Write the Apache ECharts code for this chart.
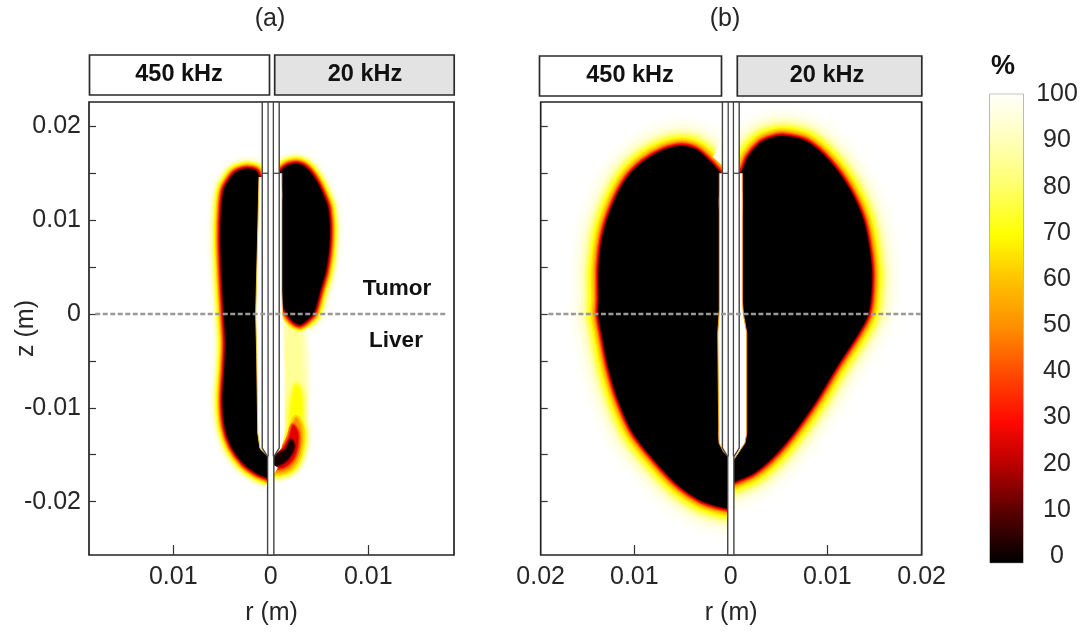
<!DOCTYPE html>
<html><head><meta charset="utf-8">
<style>html,body{margin:0;padding:0;background:#fff}#c{width:1080px;height:633px}</style>
<script src="https://cdn.jsdelivr.net/npm/echarts@6/dist/echarts.min.js"></script>
</head><body><div id="c"></div>
<script>
// axis ranges (m)
const zRange = [-0.02569, 0.0226];
const rRangeA = [-0.01864, 0.0188];
const rRangeB = [-0.0197, 0.01978];
const zTicks = [-0.02,-0.015,-0.01,-0.005,0,0.005,0.01,0.015,0.02];
const zLabels = [-0.02,-0.01,0,0.01,0.02];
const rLabelsA = [-0.01,0,0.01];
const rTicksA = [-0.01,0.01];
const rLabelsB = [-0.0197,-0.01,0,0.01,0.01978];
const rTicksB = [-0.01,0.01,0.01978];
// Colour bar
const barTicks = [0,10,20,30,40,50,60,70,80,90,100];
const barStops = [0,10,20,30,40,50,60,70,80,90,100];
const barColors = ['#000000','#520000','#b00000','#ff0800','#ff4800','#ff8c00','#ffc000','#ffff00','#ffff68','#ffffb8','#fffffa'];

// (a) 450 kHz: outer edge of the zero-percent region, then its side along the needle
const aLeftEdge = [[-0.0006,0.014],[-0.0012,0.01464],[-0.00144,0.01517],[-0.00192,0.0154],[-0.00264,0.01543],[-0.00366,0.01503],[-0.00438,0.01407],[-0.00479,0.01322],[-0.00503,0.01144],[-0.00513,0.00789],[-0.00499,0.00362],[-0.00479,0],[-0.00462,-0.00309],[-0.00474,-0.00597],[-0.00492,-0.00917],[-0.00469,-0.01201],[-0.004,-0.01415],[-0.00281,-0.01588],[-0.00144,-0.01695],[-0.00028,-0.01748],[-0.0001,-0.0176]];
const aLeftInner = [[-0.0001,-0.0165],[-0.0002,-0.0152],[-0.0011,-0.0143],[-0.0012,-0.012],[-0.0012,-0.009],[-0.0012,-0.006],[-0.0012,-0.003],[-0.0012,0],[-0.0012,0.003],[-0.0012,0.006],[-0.0012,0.009],[-0.0012,0.012]];
// (a) 20 kHz
const aRightEdge = [[0.0006,0.0147],[0.00113,0.01528],[0.00146,0.01562],[0.00198,0.01588],[0.0027,0.01599],[0.00331,0.01578],[0.00393,0.01525],[0.00472,0.01407],[0.00536,0.01269],[0.00583,0.01141],[0.00603,0.00949],[0.00601,0.00789],[0.00588,0.00629],[0.00557,0.00437],[0.00506,0.00256],[0.00437,0.00007],[0.00369,-0.00064],[0.003,-0.0011],[0.00229,-0.00075],[0.00164,0.00011],[0.00126,0.00096],[0.00113,0.00256]];
const aRightInner = [[0.00113,0.005],[0.00113,0.008],[0.00113,0.011],[0.00113,0.0135]];
// (a) 20 kHz: plume and crescent below the z = 0 line
const aPlumePale = [[0.00218,-0.00085],[0.00157,-0.00277],[0.00157,-0.00597],[0.00177,-0.00917],[0.00208,-0.01183],[0.0029,-0.01183],[0.00321,-0.00917],[0.00321,-0.00597],[0.00311,-0.0033],[0.0028,-0.00117]];
const aPlumeYellow = [[0.0026,-0.00757],[0.00218,-0.00917],[0.00208,-0.01183],[0.003,-0.01237],[0.00321,-0.0097],[0.003,-0.0081]];
const aCrescentOrange = [[0.0026,-0.01109],[0.00218,-0.01215],[0.00177,-0.01365],[0.00116,-0.01471],[0.00054,-0.01546],[0.00044,-0.01685],[0.00177,-0.01663],[0.0026,-0.01567],[0.00311,-0.01397],[0.00311,-0.01215]];
const aCrescentRed = [[0.00229,-0.01183],[0.00188,-0.01311],[0.00126,-0.01429],[0.00044,-0.01503],[0.00033,-0.01642],[0.00147,-0.01631],[0.00239,-0.01535],[0.0028,-0.01397],[0.0028,-0.01258]];
const aCrescentDark = [[0.00208,-0.01343],[0.00157,-0.01439],[0.00044,-0.01524],[0.00023,-0.0162],[0.00126,-0.01588],[0.00198,-0.01514],[0.00239,-0.01407]];
// clear zone next to the needle
const aLeftGap = [[-0.0012,0.0146],[-0.0013,0.01],[-0.00154,0],[-0.00144,-0.0043],[-0.00133,-0.0127],[-0.0011,-0.0143],[-0.0003,-0.0152]];
const aRightGap = [[0.00113,0.015],[0.00113,0.0026],[0.0012,0],[0.0014,-0.005],[0.0014,-0.0127],[0.0011,-0.0143],[0.0003,-0.0152]];

// (b)
const bLeftEdge = [[-0.0006,0.0145],[-0.00119,0.01517],[-0.00215,0.01624],[-0.00353,0.01748],[-0.00509,0.01791],[-0.00699,0.01746],[-0.00906,0.01624],[-0.01078,0.01447],[-0.01217,0.0118],[-0.01321,0.0086],[-0.01366,0.00504],[-0.01366,0.00149],[-0.01373,0.00007],[-0.01338,-0.00203],[-0.01269,-0.00562],[-0.01166,-0.00917],[-0.0101,-0.01272],[-0.00733,-0.01628],[-0.00526,-0.01841],[-0.00319,-0.01983],[-0.00163,-0.02042],[-0.00042,-0.02071],[-0.0001,-0.02075]];
const bLeftInner = [[-0.0001,-0.0195],[-0.0001,-0.018],[-0.0001,-0.0165],[-0.0002,-0.0152],[-0.00119,-0.0137],[-0.00119,-0.011],[-0.00119,-0.008],[-0.00119,-0.005],[-0.00119,-0.002],[-0.00119,0.001],[-0.00119,0.004],[-0.00119,0.007],[-0.00119,0.01],[-0.00119,0.013]];
const bRightEdge = [[0.0006,0.0145],[0.00119,0.01528],[0.00181,0.01677],[0.00303,0.0182],[0.00417,0.01876],[0.00544,0.01898],[0.00787,0.01837],[0.01028,0.01624],[0.01235,0.01322],[0.01373,0.01002],[0.01442,0.00647],[0.0146,0.00362],[0.01425,0.00007],[0.01321,-0.00206],[0.01097,-0.00562],[0.0089,-0.00917],[0.00648,-0.01272],[0.0044,-0.01521],[0.00233,-0.01698],[0.00033,-0.01788],[0.0001,-0.0179]];
const bRightInner = [[0.0001,-0.0165],[0.0002,-0.0155],[0.0012,-0.0137],[0.00119,-0.011],[0.00119,-0.008],[0.00119,-0.005],[0.00119,-0.002],[0.00119,0.001],[0.00119,0.004],[0.00119,0.007],[0.00119,0.01],[0.00119,0.013]];
const bLeftGap = [[-0.00119,0.015],[-0.00119,0.0005],[-0.00135,-0.002],[-0.00129,-0.00917],[-0.00122,-0.01375],[-0.00077,-0.01468],[-0.00026,-0.01521]];
const bRightGap = [[0.00119,0.015],[0.00119,0.0015],[0.0013,0],[0.00165,-0.002],[0.00165,-0.0127],[0.00147,-0.01375],[0.00033,-0.0155]];

// needle, same in both panels
const needleOutline = [[-0.00087,0.0226],[-0.00087,-0.0143],[-0.00032,-0.0152],[-0.00032,-0.02569],[0.00032,-0.02569],[0.00032,-0.0152],[0.00087,-0.0143],[0.00087,0.0226]];
const needleInnerLeft = [[-0.00027,0.0226],[-0.00027,-0.0152]];
const needleInnerRight = [[0.00027,0.0226],[0.00027,-0.0152]];
const needleMarkLeft = [[-0.00087,0.015],[-0.00027,0.015]];
const needleMarkRight = [[0.00027,0.015],[0.00087,0.015]];
const interfaceA = [[-0.018,0],[0.018,0]];
const interfaceB = [[-0.0189,0],[0.01968,0]];

// falloff styling
const haloAOuter = [[14,'#fffff8'],[12,'#ffffe8'],[10.5,'#ffffc8'],[9,'#ffff98'],[7.8,'#ffff50']];
const haloAInner = [[6.8,'#ffff00'],[5.7,'#ffd000'],[4.6,'#ff9000'],[3.6,'#ff4800'],[2.5,'#e00000'],[1.4,'#900000'],[0.5,'#300000']];
const haloB = [[32,'#fffffb'],[27,'#fffff2'],[22,'#ffffe0'],[18,'#ffffc4'],[15,'#ffffa0'],[13,'#ffff70'],[11,'#ffff40'],[9,'#ffff00'],[7.7,'#ffe000'],[6.3,'#ffc000'],[5,'#ff9800'],[3.8,'#ff5800'],[2.7,'#ff1000'],[1.8,'#d80000'],[1.1,'#900000'],[0.5,'#500000']];

const FONT = '"Liberation Sans", Arial, sans-serif';
const INK = '#262626';

function px(api, pts){ return pts.map(p => api.coord(p)); }
function custom(g, data, draw){
  return {type:'custom',xAxisIndex:g,yAxisIndex:g,coordinateSystem:'cartesian2d',silent:true,data,
    renderItem(params, api){ return params.dataIndex===0 ? {type:'group',children:draw(api)} : null; }};
}
// open band along an outer edge, widest layer first
function halo(g, edge, layers){
  return custom(g, edge, api=>{
    const points = px(api, edge);
    return layers.map(l=>({type:'polyline',shape:{points,smooth:0.3},
      style:{fill:'none',stroke:l[1],lineWidth:l[0]*2,lineJoin:'round',lineCap:'butt'}}));
  });
}
function core(g, edge, inner, fill){
  const pts = edge.concat(inner);
  return custom(g, pts, api=>[{type:'polygon',shape:{points:px(api,pts),smooth:0.3},style:{fill,stroke:'none'}}]);
}
// closed level shape with its own falloff
function blob(g, pts, layers, fill){
  return custom(g, pts, api=>{
    const points = px(api, pts);
    return layers.map(l=>({type:'polygon',shape:{points,smooth:0.3},
      style:{fill:'none',stroke:l[1],lineWidth:l[0]*2,lineJoin:'round'}}))
      .concat([{type:'polygon',shape:{points,smooth:0.3},style:{fill,stroke:'none'}}]);
  });
}
function gap(g, pts, edge, edgeColor){
  return custom(g, pts, api=>{
    const closed = pts.concat([[0,pts[pts.length-1][1]],[0,pts[0][1]]]);
    return [
      {type:'polygon',shape:{points:px(api,closed)},style:{fill:'#fff',stroke:'none'}},
      {type:'polyline',shape:{points:px(api,edge)},style:{fill:'none',stroke:edgeColor,lineWidth:1}}
    ];
  });
}
function needle(g){
  return custom(g, needleOutline, api=>{
    const st={fill:'none',stroke:'#444',lineWidth:1.3};
    return [
      {type:'polygon',shape:{points:px(api,needleOutline)},style:{fill:'#fff',stroke:'#444',lineWidth:1.4}},
      {type:'polyline',shape:{points:px(api,needleInnerLeft)},style:st},
      {type:'polyline',shape:{points:px(api,needleInnerRight)},style:st},
      {type:'polyline',shape:{points:px(api,needleMarkLeft)},style:st},
      {type:'polyline',shape:{points:px(api,needleMarkRight)},style:st}
    ];
  });
}
function dashed(g, data){
  return {type:'line',xAxisIndex:g,yAxisIndex:g,data,showSymbol:false,silent:true,
    lineStyle:{color:'#999',width:2.4,type:[5,2.5]}};
}
function xAx(g, range, labels, ticks, name){
  return {gridIndex:g,type:'value',min:range[0],max:range[1],position:'bottom',
    name,nameLocation:'middle',nameGap:46,
    nameTextStyle:{fontFamily:FONT,fontSize:25,color:INK},
    axisLine:{show:false,onZero:false},splitLine:{show:false},
    axisTick:{inside:true,length:10,customValues:ticks,lineStyle:{color:'#333',width:1.2}},
    axisLabel:{customValues:labels,margin:10,fontFamily:FONT,fontSize:25,color:INK,showMinLabel:true,showMaxLabel:true,hideOverlap:false,
      formatter:v=>{const a=Math.abs(v);return a<1e-9?'0':a.toFixed(2);}}};
}
function yAx(g, withLabels){
  return {gridIndex:g,type:'value',min:zRange[0],max:zRange[1],position:'left',
    name:withLabels?'z (m)':'',nameLocation:'middle',nameGap:50,nameRotate:90,nameMoveOverlap:false,
    nameTextStyle:{fontFamily:FONT,fontSize:25,color:INK},
    axisLine:{show:false,onZero:false},splitLine:{show:false},
    axisTick:{inside:true,length:7,customValues:zTicks,lineStyle:{color:'#333',width:1.2}},
    axisLabel:withLabels?{customValues:zLabels,margin:8,fontFamily:FONT,fontSize:25,color:INK,hideOverlap:false,
      formatter:v=>Math.abs(v)<1e-9?'0':v.toFixed(2)}:{show:false}};
}
const gridBase={show:true,borderColor:'#222',borderWidth:1.7,backgroundColor:'#fff',outerBoundsMode:'none'};
const barAxis={gridIndex:2,type:'value',min:0,max:100,splitLine:{show:false},axisLine:{show:false,onZero:false},
  axisTick:{inside:true,length:6,customValues:barTicks.slice(1,-1),lineStyle:{color:'#555',width:1}},axisLabel:{show:false}};

function frame(x,y,w,h,fill){
  return {type:'rect',shape:{x,y,width:w,height:h},style:{fill,stroke:'#2a2a2a',lineWidth:1.7}};
}
function txt(text,cx,cy,size,weight){
  return {type:'text',x:cx,y:cy,style:{text,fill:weight==='bold'?'#111':INK,font:`${weight||'normal'} ${size}px ${FONT}`,align:'center',verticalAlign:'middle'}};
}

const chart = echarts.init(document.getElementById('c'),null,{renderer:'canvas'});
chart.setOption({
  animation:false,backgroundColor:'#fff',
  tooltip:{show:false},
  grid:[
    Object.assign({left:89,top:102,width:365,height:453},gridBase),
    Object.assign({left:540.7,top:102,width:381,height:453},gridBase),
    {show:true,borderColor:'#8a8a8a',borderWidth:1.2,left:990,top:94.3,width:33,height:468.4,backgroundColor:'#fff',outerBoundsMode:'none'}
  ],
  xAxis:[xAx(0,rRangeA,rLabelsA,rTicksA,'r (m)'),xAx(1,rRangeB,rLabelsB,rTicksB,'r (m)'),
    {gridIndex:2,type:'value',min:0,max:1,show:false}],
  yAxis:[yAx(0,true),yAx(1,false),
    Object.assign({position:'left'},barAxis),
    Object.assign({position:'right'},barAxis),
    {gridIndex:2,type:'value',min:-1.45,max:100,position:'right',splitLine:{show:false},axisLine:{show:false,onZero:false},axisTick:{show:false},
      axisLabel:{customValues:barTicks,margin:34,align:'center',fontFamily:FONT,fontSize:25,color:INK,hideOverlap:false}}],
  graphic:{elements:[
    frame(89.5,55,180,40,'#fff'),frame(274.7,55,179.5,40,'#e3e3e3'),
    frame(539.5,56,182,40,'#fff'),frame(737.3,56,184.5,40,'#e3e3e3'),
    txt('450 kHz',179,75,23.5,'bold'),txt('20 kHz',365,75,23.5,'bold'),
    txt('450 kHz',630,76,23.5,'bold'),txt('20 kHz',827,76,23.5,'bold'),
    txt('(a)',270,19,25),txt('(b)',725,19,25),
    txt('Tumor',397,289,22.5,'bold'),txt('Liver',396,341,22.5,'bold'),
    txt('%',1003,67,27,'bold')
  ]},
  series:[
    halo(0,aRightEdge,haloAOuter),
    blob(0,aPlumePale,[[10,'#fffff4'],[8,'#ffffe0'],[6,'#ffffc8'],[3.5,'#ffffb0']],'#ffff98'),
    blob(0,aCrescentOrange,[[10,'#ffffe0'],[8,'#ffffb0'],[6.5,'#ffff80']],'#ffff80'),
    blob(0,aPlumeYellow,[[6,'#ffff90'],[4,'#ffff70'],[2,'#ffff30']],'#ffff00'),
    blob(0,aCrescentOrange,[[5,'#ffff20'],[3.5,'#ffe000'],[1.8,'#ffb800']],'#ff9000'),
    blob(0,aCrescentRed,[[2.5,'#ff7000'],[1.2,'#ff3000']],'#e00000'),
    blob(0,aCrescentDark,[[2,'#a00000'],[1,'#500000']],'#100000'),
    halo(0,aRightEdge,haloAInner),
    core(0,aRightEdge,aRightInner,'#000'),
    halo(0,aLeftEdge,haloAOuter.concat(haloAInner)),
    core(0,aLeftEdge,aLeftInner,'#000'),
    gap(0,aLeftGap,aLeftGap,'#ffc030'),
    gap(0,aRightGap,aRightGap.slice(0,3),'#ffd050'),
    needle(0),
    dashed(0,interfaceA),

    halo(1,bLeftEdge,haloB),
    halo(1,bRightEdge,haloB),
    core(1,bLeftEdge,bLeftInner,'#000'),
    core(1,bRightEdge,bRightInner,'#000'),
    gap(1,bLeftGap,bLeftGap,'#ff9a00'),
    gap(1,bRightGap,bRightGap,'#ff9a00'),
    needle(1),
    dashed(1,interfaceB),

    {type:'custom',xAxisIndex:2,yAxisIndex:2,coordinateSystem:'cartesian2d',silent:true,
      data:barStops.map((v,i)=>[i/10,v]),
      renderItem(params,api){
        if(params.dataIndex!==0) return null;
        const a=api.coord([0,100]),b=api.coord([1,0]);
        return {type:'rect',shape:{x:a[0],y:a[1],width:b[0]-a[0],height:b[1]-a[1]},
          style:{fill:new echarts.graphic.LinearGradient(0,1,0,0,barStops.map((v,i)=>({offset:v/100,color:barColors[i]})))}};
      }}
  ]
});
</script></body></html>
